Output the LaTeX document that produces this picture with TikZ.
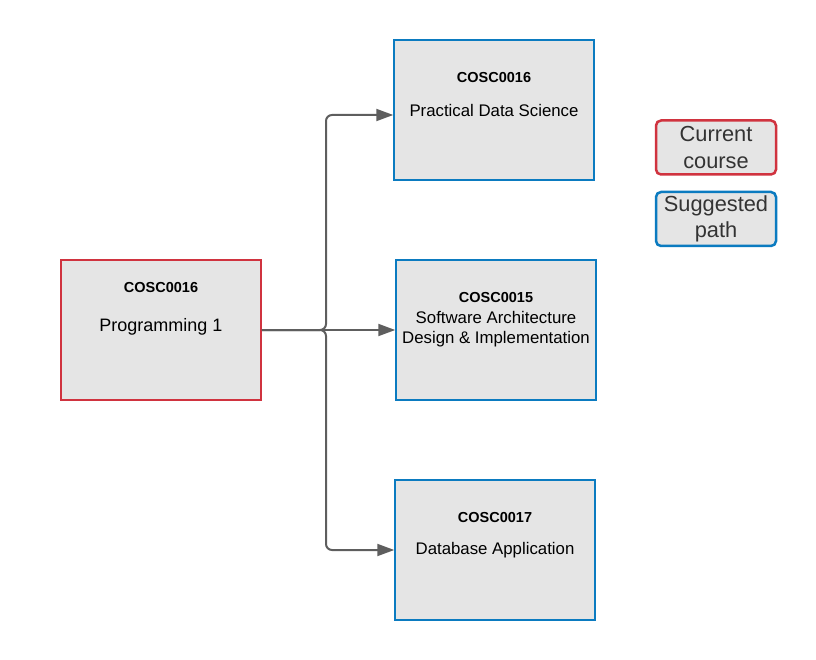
\documentclass[tikz,border=0pt]{standalone}
\usepackage{fontspec}
\setmainfont{Liberation Sans}
\usetikzlibrary{arrows.meta}
\definecolor{redb}{HTML}{D0333F}
\definecolor{blueb}{HTML}{0B7BC0}
\definecolor{boxfill}{HTML}{E5E5E5}
\definecolor{conn}{HTML}{5E5E5E}
\definecolor{txt}{HTML}{333333}
\begin{document}
\begin{tikzpicture}[x=1pt,y=-1pt,
  course/.style={draw, fill=boxfill, line width=1.5pt, minimum width=200pt, minimum height=140pt, inner sep=0pt},
  cur/.style={course, draw=redb},
  sug/.style={course, draw=blueb},
  codetxt/.style={font=\fontsize{14.5}{16}\selectfont\bfseries, inner sep=0pt},
  nametxt/.style={font=\fontsize{16.8}{20}\selectfont, inner sep=0pt, align=center},
  legend/.style={fill=boxfill, line width=2.5pt, rounded corners=5pt, minimum width=120pt, minimum height=54pt, inner sep=0pt, align=center, text=txt, font=\fontsize{21.8}{26.5}\selectfont},
  link/.style={draw=conn, line width=2pt, rounded corners=6pt, -{Triangle[length=17pt,width=12pt]}}
]
\useasboundingbox (0,0) rectangle (816,660);
% boxes
\node[cur] (p1) at (161,330) {};
\node[sug] (pds) at (494,110) {};
\node[sug] (sad) at (496,330) {};
\node[sug] (dba) at (495,550) {};
% texts
\node[codetxt] (p1c) at (161,288) {COSC0016};
\node[nametxt, font=\fontsize{18}{20}\selectfont] (p1n) at (161,327) {Programming 1};
\node[codetxt] (pdsc) at (494,78) {COSC0016};
\node[nametxt] (pdsn) at (494,110) {Practical Data Science};
\node[codetxt] (sadc) at (496,298) {COSC0015};
\node[nametxt] (sadn) at (496,329) {Software Architecture\\Design \& Implementation};
\node[codetxt] (dbac) at (495,518) {COSC0017};
\node[nametxt] (dban) at (495,550) {Database Application};
% legend
\node[legend, draw=redb] (lc) at (716,147.5) {\raisebox{-2pt}{Current}\\\raisebox{-2pt}{course}};
\node[legend, draw=blueb] (ls) at (716,219) {\raisebox{-2pt}{Suggested}\\\raisebox{-2pt}{path}};
% connectors
\coordinate (j) at (326,330);
\draw[link] (p1.east) -- (sad.west);
\draw[link] (p1.east) -- (j) |- (pds.west |- 0,115);
\draw[link] (p1.east) -- (j) |- (dba.west |- 0,550);
\end{tikzpicture}
\end{document}
